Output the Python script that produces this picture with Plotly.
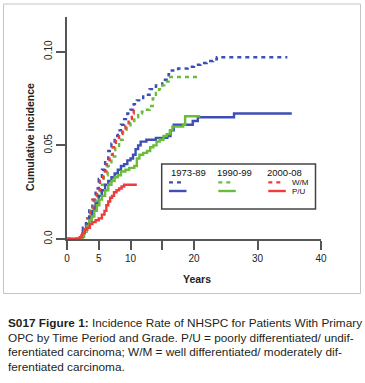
import plotly.graph_objects as go

# ---------------- data ----------------
# 1973-89, W/M (dashed blue)
bd_t = [0, 2.0, 2.5, 3.0, 3.5, 4.0, 4.5, 5.0, 5.5, 6.0, 6.5, 7.0, 7.5, 8.0, 8.5, 9.0, 9.5,
        10.0, 10.5, 11.0, 12.0, 13.0, 14.0, 15.0, 16.0, 16.5, 17.5, 19.0, 20.0, 21.0, 22.0,
        23.0, 23.6, 34.7]
bd_y = [0, 0.001, 0.006, 0.011, 0.016, 0.021, 0.027, 0.032, 0.037, 0.042, 0.047, 0.051,
        0.055, 0.058, 0.061, 0.064, 0.067, 0.069, 0.072, 0.074, 0.077, 0.080, 0.082, 0.085,
        0.088, 0.090, 0.091, 0.092, 0.093, 0.094, 0.095, 0.096, 0.097, 0.097]
# 1990-99, W/M (dashed green)
gd_t = [0, 2.3, 2.7, 3.2, 3.7, 4.2, 4.8, 5.3, 5.8, 6.4, 7.0, 7.6, 8.2, 8.8, 9.4, 10.0,
        10.6, 11.2, 11.8, 12.4, 13.0, 13.5, 14.0, 14.5, 15.0, 15.5, 16.0, 21.0]
gd_y = [0, 0.002, 0.007, 0.011, 0.015, 0.020, 0.025, 0.029, 0.034, 0.039, 0.044, 0.049,
        0.053, 0.057, 0.060, 0.062, 0.065, 0.067, 0.068, 0.069, 0.071, 0.075, 0.078, 0.080,
        0.082, 0.084, 0.0865, 0.0865]
# 2000-08, W/M (dashed red)
rd_t = [0, 2.3, 2.7, 3.2, 3.7, 4.2, 4.7, 5.2, 5.7, 6.2, 6.7, 7.2, 7.7, 8.2, 8.7, 9.2, 9.7,
        10.2, 10.5, 11.0]
rd_y = [0, 0.002, 0.006, 0.011, 0.016, 0.021, 0.026, 0.031, 0.036, 0.040, 0.045, 0.049,
        0.053, 0.056, 0.059, 0.061, 0.064, 0.067, 0.0695, 0.0695]
# 1973-89, P/U (solid blue)
bs_t = [0, 2.1, 2.5, 3.0, 3.5, 4.0, 4.5, 5.0, 5.5, 6.0, 6.5, 7.0, 7.5, 8.0, 8.5, 9.0, 9.5,
        10.0, 10.4, 10.8, 11.2, 11.6, 12.5, 14.0, 15.8, 16.3, 16.8, 19.8, 20.6, 26.3, 35.4]
bs_y = [0, 0.001, 0.004, 0.008, 0.012, 0.015, 0.019, 0.023, 0.026, 0.029, 0.031, 0.033,
        0.035, 0.037, 0.039, 0.040, 0.042, 0.043, 0.045, 0.048, 0.050, 0.052, 0.053, 0.054,
        0.055, 0.058, 0.061, 0.063, 0.065, 0.067, 0.067]
# 1990-99, P/U (solid green)
gs_t = [0, 2.3, 2.7, 3.1, 3.5, 3.9, 4.3, 4.7, 5.1, 5.5, 6.0, 6.5, 7.0, 7.5, 8.0, 8.5, 9.2,
        9.8, 10.6, 11.0, 11.4, 12.0, 12.6, 13.1, 13.6, 14.1, 14.6, 15.2, 15.7, 16.2, 16.6,
        18.3, 18.6, 21.0]
gs_y = [0, 0.001, 0.004, 0.007, 0.010, 0.012, 0.015, 0.018, 0.021, 0.023, 0.026, 0.029,
        0.031, 0.033, 0.034, 0.036, 0.037, 0.038, 0.039, 0.043, 0.045, 0.046, 0.047, 0.049,
        0.050, 0.052, 0.053, 0.055, 0.056, 0.058, 0.060, 0.061, 0.0655, 0.0655]
# 2000-08, P/U (solid red)
rs_t = [0, 2.0, 2.4, 2.8, 3.2, 3.6, 4.0, 4.5, 5.0, 5.5, 5.9, 6.2, 6.5, 6.8, 7.1, 7.4, 7.8,
        8.2, 8.6, 9.0, 11.0]
rs_y = [0, 0.001, 0.003, 0.005, 0.006, 0.008, 0.009, 0.010, 0.011, 0.013, 0.015, 0.018,
        0.020, 0.022, 0.023, 0.025, 0.026, 0.027, 0.028, 0.029, 0.029]

x_tickvals = [0, 5, 10, 15, 20, 30, 40]
x_ticktext = ["0", "5", "10", "", "20", "30", "40"]
y_tickvals = [0, 0.05, 0.10]
y_ticktext = ["0.0", "0.05", "0.10"]
periods = ["1973-89", "1990-99", "2000-08"]
grades = ["W/M", "P/U"]
caption = [
    "<b>S017 Figure 1:</b> Incidence Rate of NHSPC for Patients With Primary",
    "OPC by Time Period and Grade. P/U = poorly differentiated/ undif-",
    "ferentiated carcinoma; W/M = well differentiated/ moderately dif-",
    "ferentiated carcinoma.",
]

# ---------------- layout helpers ----------------
W, H = 365, 383
L, R, T, B = 67, 44, 17, 144
PW, PH = W - L - R, H - T - B


def px(x):
    return (x - L) / PW


def py(y):
    return (H - B - y) / PH


BLUE, GREEN, RED = "#3d4fb5", "#69bd3b", "#ee3b3b"
AX = "#555555"
DASH = "4px,4px"

fig = go.Figure()
series = [
    (bd_t, bd_y, BLUE, DASH), (gd_t, gd_y, GREEN, DASH), (rd_t, rd_y, RED, DASH),
    (bs_t, bs_y, BLUE, "solid"), (gs_t, gs_y, GREEN, "solid"), (rs_t, rs_y, RED, "solid"),
]
for t, y, c, d in series:
    fig.add_trace(go.Scatter(x=t, y=y, mode="lines",
                             line=dict(color=c, width=2.4, dash=d, shape="hv"),
                             showlegend=False, hoverinfo="skip"))

ytop = 0.10 * PH / (H - B - 51.7)

fig.update_layout(
    width=W, height=H, margin=dict(l=L, r=R, t=T, b=B),
    paper_bgcolor="white", plot_bgcolor="white",
    font=dict(family="Liberation Sans, Arial, sans-serif", color="#222"),
    xaxis=dict(range=[0, 40], tickvals=x_tickvals, ticktext=x_ticktext,
               ticks="outside", ticklen=9, tickwidth=1.5, tickcolor=AX,
               showline=True, linecolor=AX, linewidth=1.5, showgrid=False,
               zeroline=False, tickfont=dict(size=10)),
    yaxis=dict(range=[0, ytop], tickvals=y_tickvals, ticktext=y_ticktext,
               ticks="outside", ticklen=9, tickwidth=1.5, tickcolor=AX,
               showline=True, linecolor=AX, linewidth=1.5, showgrid=False,
               zeroline=False, tickangle=-90, tickfont=dict(size=10)),
)

shapes = []
ann = []
# outer frame
shapes.append(dict(type="rect", xref="paper", yref="paper",
                   x0=px(3.5), x1=px(360.5), y0=py(4), y1=py(293.5),
                   line=dict(color="#c4c4c4", width=1)))
# legend box
shapes.append(dict(type="rect", xref="paper", yref="paper",
                   x0=px(161.7), x1=px(315.5), y0=py(164), y1=py(209),
                   line=dict(color="#444", width=1.5)))
cols = [(169, BLUE), (218.3, GREEN), (268.3, RED)]
head_x = [169, 215, 265]
for (x0, c), hx, p in zip(cols, head_x, periods):
    ann.append(dict(text=p, x=px(hx), y=py(172), xref="paper", yref="paper",
                    xanchor="left", yanchor="middle", showarrow=False,
                    font=dict(size=9.5, color="#111")))
    shapes.append(dict(type="line", xref="paper", yref="paper",
                       x0=px(x0), x1=px(x0 + 13), y0=py(182.3), y1=py(182.3),
                       line=dict(color=c, width=2.2, dash=DASH)))
    shapes.append(dict(type="line", xref="paper", yref="paper",
                       x0=px(x0), x1=px(x0 + 17.5), y0=py(191), y1=py(191),
                       line=dict(color=c, width=2.4)))
for g, yy in zip(grades, [182, 191]):
    ann.append(dict(text=g, x=px(290), y=py(yy), xref="paper", yref="paper",
                    xanchor="left", yanchor="middle", showarrow=False,
                    font=dict(size=8, color="#111")))

# axis titles
ann.append(dict(text="<b>Years</b>", x=px(196.7), y=py(278.5), xref="paper", yref="paper",
                xanchor="center", yanchor="middle", showarrow=False,
                font=dict(size=10.5, color="#222")))
ann.append(dict(text="<b>Cumulative incidence</b>", x=px(29.5), y=py(137.5), xref="paper",
                yref="paper", xanchor="center", yanchor="middle", showarrow=False,
                textangle=-90, font=dict(size=10.5, color="#222")))

# caption
for i, line in enumerate(caption):
    ann.append(dict(text=line, x=px(6), y=py(323 + i * 14.6), xref="paper", yref="paper",
                    xanchor="left", yanchor="middle", showarrow=False,
                    font=dict(size=11.8, color="#231f20",
                              family="Liberation Sans, Arial, sans-serif")))

fig.update_layout(shapes=shapes, annotations=ann)
fig.write_html("out.html", config={"displayModeBar": False},
               post_script="document.body.style.margin='0px';document.body.style.overflow='hidden';")
